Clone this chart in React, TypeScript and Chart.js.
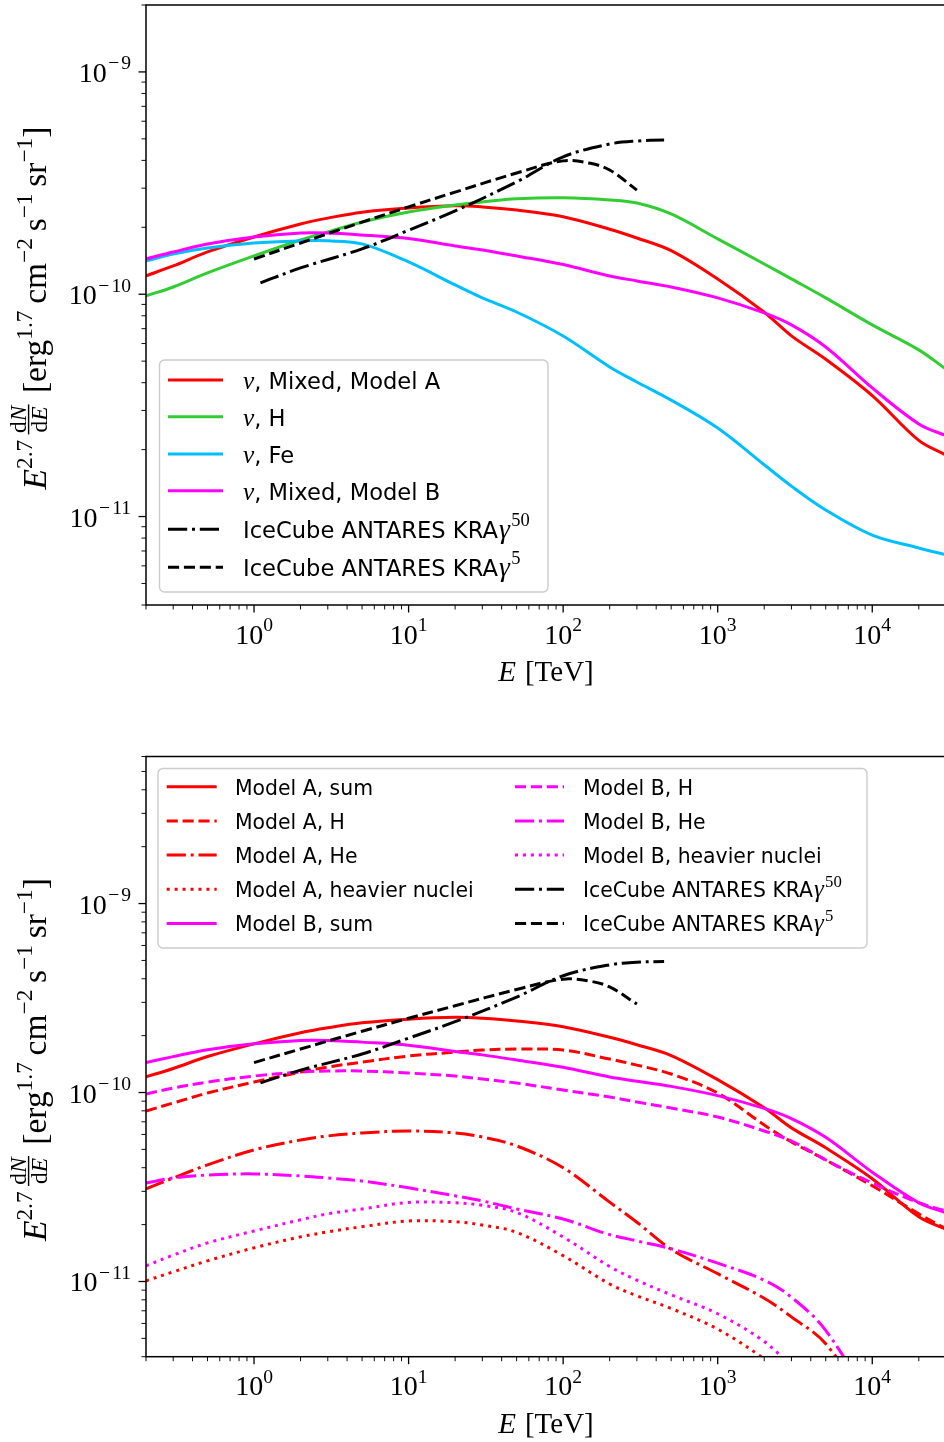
import React, { useEffect, useRef } from 'react';
import { Chart, registerables } from 'chart.js';

Chart.register(...registerables);

// ---------------- data (TeV, erg^1.7 cm^-2 s^-1 sr^-1) ----------------
const ENERGY_TEV = [0.2, 0.3, 0.5, 1, 2, 3, 5, 10, 20, 30, 50, 100, 200, 300, 500, 1000, 2000, 3000, 5000, 10000, 20000, 30000];

const MODEL_A_SUM = [1.21e-10, 1.34e-10, 1.55e-10, 1.81e-10, 2.07e-10, 2.2e-10, 2.34e-10, 2.445e-10, 2.5e-10, 2.47e-10, 2.39e-10, 2.23e-10, 1.96e-10, 1.79e-10, 1.57e-10, 1.17e-10, 8.3e-11, 6.5e-11, 5.1e-11, 3.5e-11, 2.2e-11, 1.89e-11];
const NU_H = [9.83e-11, 1.078e-10, 1.247e-10, 1.487e-10, 1.754e-10, 1.905e-10, 2.114e-10, 2.344e-10, 2.521e-10, 2.601e-10, 2.685e-10, 2.713e-10, 2.656e-10, 2.574e-10, 2.297e-10, 1.774e-10, 1.368e-10, 1.172e-10, 9.63e-11, 7.28e-11, 5.62e-11, 4.6e-11];
const NU_FE = [1.412e-10, 1.518e-10, 1.615e-10, 1.702e-10, 1.738e-10, 1.738e-10, 1.684e-10, 1.397e-10, 1.101e-10, 9.63e-11, 8.32e-11, 6.49e-11, 4.71e-11, 4.03e-11, 3.34e-11, 2.5e-11, 1.71e-11, 1.37e-11, 1.07e-11, 8.25e-12, 7.22e-12, 6.72e-12];
const MODEL_B_SUM = [1.442e-10, 1.549e-10, 1.684e-10, 1.811e-10, 1.887e-10, 1.887e-10, 1.848e-10, 1.78e-10, 1.649e-10, 1.582e-10, 1.487e-10, 1.36e-10, 1.208e-10, 1.148e-10, 1.078e-10, 9.63e-11, 8.24e-11, 7.28e-11, 5.79e-11, 3.79e-11, 2.61e-11, 2.31e-11];

const MODEL_A_H = [7.98e-11, 8.8e-11, 9.94e-11, 1.136e-10, 1.283e-10, 1.364e-10, 1.449e-10, 1.56e-10, 1.637e-10, 1.678e-10, 1.698e-10, 1.678e-10, 1.503e-10, 1.397e-10, 1.253e-10, 9.94e-11, 6.73e-11, 5.48e-11, 4.4e-11, 3.21e-11, 2.28e-11, 1.9e-11];
const MODEL_A_HE = [3.09e-11, 3.53e-11, 4.14e-11, 4.97e-11, 5.61e-11, 5.89e-11, 6.11e-11, 6.26e-11, 6.11e-11, 5.82e-11, 5.22e-11, 4.0e-11, 2.63e-11, 2.06e-11, 1.48e-11, 1.1e-11, 8.15e-12, 6.5e-12, 4.68e-12, 2.0e-12, 6e-13, 2e-13];
const MODEL_A_HEAVY = [1.008e-11, 1.125e-11, 1.286e-11, 1.507e-11, 1.723e-11, 1.83e-11, 1.95e-11, 2.09e-11, 2.07e-11, 1.99e-11, 1.82e-11, 1.37e-11, 9.7e-12, 8.4e-12, 7.2e-12, 5.6e-12, 3.9e-12, 3.0e-12, 2.0e-12, 1e-12, 5e-13, 3e-13];
const MODEL_B_H = [9.82e-11, 1.056e-10, 1.136e-10, 1.222e-10, 1.283e-10, 1.3e-10, 1.3e-10, 1.268e-10, 1.222e-10, 1.178e-10, 1.122e-10, 1.031e-10, 9.47e-11, 8.91e-11, 8.28e-11, 7.42e-11, 6.26e-11, 5.54e-11, 4.4e-11, 3.32e-11, 2.61e-11, 2.36e-11];
const MODEL_B_HE = [3.32e-11, 3.53e-11, 3.66e-11, 3.71e-11, 3.62e-11, 3.53e-11, 3.4e-11, 3.13e-11, 2.84e-11, 2.67e-11, 2.42e-11, 2.14e-11, 1.77e-11, 1.64e-11, 1.49e-11, 1.25e-11, 1.016e-11, 8.26e-12, 5.51e-12, 2.2e-12, 8e-13, 4e-13];
const MODEL_B_HEAVY = [1.21e-11, 1.38e-11, 1.6e-11, 1.85e-11, 2.12e-11, 2.28e-11, 2.42e-11, 2.62e-11, 2.61e-11, 2.53e-11, 2.32e-11, 1.72e-11, 1.2e-11, 1.016e-11, 8.5e-12, 6.75e-12, 4.81e-12, 3.5e-12, 2.0e-12, 1e-12, 5e-13, 3e-13];

const KRA50_E = [1.1, 2, 5, 10, 20, 50, 100, 200, 300, 450];
const KRA50 = [1.125e-10, 1.313e-10, 1.6e-10, 1.94e-10, 2.37e-10, 3.2e-10, 4.15e-10, 4.74e-10, 4.89e-10, 4.94e-10];
const KRA5_E = [1, 2, 5, 10, 20, 50, 100, 150, 200, 300];
const KRA5 = [1.44e-10, 1.7e-10, 2.11e-10, 2.47e-10, 2.88e-10, 3.51e-10, 3.98e-10, 3.88e-10, 3.62e-10, 2.94e-10];

const TOP_LABELS = ['ν, Mixed, Model A', 'ν, H', 'ν, Fe', 'ν, Mixed, Model B', 'IceCube ANTARES KRAγ^50', 'IceCube ANTARES KRAγ^5'];
const BOTTOM_LABELS = ['Model A, sum', 'Model A, H', 'Model A, He', 'Model A, heavier nuclei', 'Model B, sum', 'Model B, H', 'Model B, He', 'Model B, heavier nuclei', 'IceCube ANTARES KRAγ^50', 'IceCube ANTARES KRAγ^5'];

const X_TICK_VALUES = [1, 10, 100, 1000, 10000];
const X_TICK_EXP = ['0', '1', '2', '3', '4'];
const Y_TICK_VALUES = [1e-9, 1e-10, 1e-11];
const Y_TICK_EXP = ['−9', '−10', '−11'];

// ---------------- styles ----------------
const SERIF = '"Liberation Serif", "Times New Roman", serif';
const SANS = '"DejaVu Sans", "Liberation Sans", sans-serif';
const RED = '#ff0000';
const GREEN = '#32cd32';
const CYAN = '#00bfff';
const MAGENTA = '#ff00ff';
const BLACK = '#000000';
const LW = 3;
const SOLID: number[] = [];
const DASHED = [11.1, 4.8];
const DASHDOT = [19.2, 4.8, 3, 4.8];
const DOTTED = [3, 4.95];

type Run = { t: string; f: string; dy?: number; gap?: number };

function measureRuns(ctx: CanvasRenderingContext2D, runs: Run[]) {
  let w = 0;
  for (const r of runs) {
    if (r.gap) { w += r.gap; continue; }
    ctx.font = r.f;
    w += ctx.measureText(r.t).width;
  }
  return w;
}
function drawRuns(ctx: CanvasRenderingContext2D, runs: Run[], x: number, y: number) {
  let cx = x;
  for (const r of runs) {
    if (r.gap) { cx += r.gap; continue; }
    ctx.font = r.f;
    ctx.fillText(r.t, cx, y + (r.dy || 0));
    cx += ctx.measureText(r.t).width;
  }
  return cx;
}
function powRuns(exp: string, F: number): Run[] {
  const sf = `${F * 0.7}px ${SERIF}`;
  const dy = -0.45 * F;
  const runs: Run[] = [{ t: '10', f: `${F}px ${SERIF}` }];
  if (exp.startsWith('−')) {
    runs.push({ t: '', f: '', gap: 1.5 });
    runs.push({ t: '−', f: sf, dy });
    runs.push({ t: '', f: '', gap: 2 });
    runs.push({ t: exp.slice(1), f: sf, dy });
  } else {
    runs.push({ t: exp, f: sf, dy });
  }
  return runs;
}
function legendRuns(label: string, F: number): Run[] {
  const runs: Run[] = [];
  let buf = '';
  const flush = () => { if (buf) { runs.push({ t: buf, f: `${F}px ${SANS}` }); buf = ''; } };
  for (let i = 0; i < label.length; i++) {
    const ch = label[i];
    if (ch === 'ν') {
      flush();
      runs.push({ t: ch, f: `italic ${F * 1.12}px ${SERIF}` });
    } else if (ch === 'γ') {
      flush();
      runs.push({ t: '', f: '', gap: F * 0.05 });
      runs.push({ t: ch, f: `italic ${F * 1.22}px ${SERIF}` });
    } else if (ch === '^') {
      flush();
      let j = i + 1;
      let s = '';
      while (j < label.length && /[0-9]/.test(label[j])) { s += label[j]; j++; }
      runs.push({ t: '', f: '', gap: F * 0.06 });
      runs.push({ t: s, f: `${F * 0.82}px ${SERIF}`, dy: -F * 0.52 });
      i = j - 1;
    } else buf += ch;
  }
  flush();
  return runs;
}

function drawYLabel(ctx: CanvasRenderingContext2D, cx: number, cy: number, target: number) {
  const build = (F: number) => {
    const S = F * 0.7;
    const up = `${F}px ${SERIF}`, it = `italic ${F}px ${SERIF}`, sUp = `${S}px ${SERIF}`, sIt = `italic ${S}px ${SERIF}`;
    const sd = -0.42 * F;
    const pre: Run[] = [{ t: 'E', f: it }, { t: '2.7', f: sUp, dy: sd }, { t: '', f: up, gap: 0.12 * F }];
    const num: Run[] = [{ t: 'd', f: sUp }, { t: 'N', f: sIt }];
    const den: Run[] = [{ t: 'd', f: sUp }, { t: 'E', f: sIt }];
    const post: Run[] = [
      { t: '', f: up, gap: 0.3 * F }, { t: '[', f: up }, { t: 'erg', f: up }, { t: '1.7', f: sUp, dy: sd },
      { t: '', f: up, gap: 0.2 * F }, { t: 'cm', f: up }, { t: '−2', f: sUp, dy: sd },
      { t: '', f: up, gap: 0.2 * F }, { t: 's', f: up }, { t: '−1', f: sUp, dy: sd },
      { t: '', f: up, gap: 0.2 * F }, { t: 'sr', f: up }, { t: '−1', f: sUp, dy: sd }, { t: ']', f: up },
    ];
    const nw = measureRuns(ctx, num), dw = measureRuns(ctx, den);
    const fw = Math.max(nw, dw) + 0.16 * F;
    const total = measureRuns(ctx, pre) + fw + measureRuns(ctx, post);
    return { F, pre, num, den, post, nw, dw, fw, total };
  };
  let L = build(31);
  const F2 = Math.max(26, Math.min(36, 31 * target / L.total));
  L = build(F2);
  const F = L.F;
  ctx.save();
  ctx.translate(cx, cy);
  ctx.rotate(-Math.PI / 2);
  let x = -L.total / 2;
  x = drawRuns(ctx, L.pre, x, 0);
  drawRuns(ctx, L.num, x + (L.fw - L.nw) / 2, -0.6 * F);
  ctx.fillRect(x + 0.04 * F, -0.52 * F - 0.7, L.fw - 0.08 * F, 1.4);
  drawRuns(ctx, L.den, x + (L.fw - L.dw) / 2, 0.03 * F);
  x += L.fw;
  drawRuns(ctx, L.post, x, 0);
  ctx.restore();
}

type Slot = { hx0: number; hx1: number; tx: number; cy: number };
type PanelSpec = {
  offsetY: number;
  labels: string[];
  legendBox: [number, number, number, number];
  legendFont: number;
  slots: Slot[];
};

function panelPlugin(spec: PanelSpec) {
  return {
    id: 'panelDecor',
    afterDraw(chart: any) {
      const ctx: CanvasRenderingContext2D = chart.ctx;
      const a = chart.chartArea;
      const xs = chart.scales.x;
      const ys = chart.scales.y;
      const oy = spec.offsetY;
      ctx.save();
      ctx.fillStyle = '#000';
      ctx.strokeStyle = '#000';
      ctx.textAlign = 'left';
      ctx.textBaseline = 'alphabetic';
      ctx.setLineDash([]);
      // x ticks
      for (let p = -1; p <= 5; p++) {
        for (let k = 1; k <= 9; k++) {
          const v = k * Math.pow(10, p);
          if (v < xs.min * 0.9999 || v > xs.max * 1.0001) continue;
          const px = xs.getPixelForValue(v);
          const major = k === 1;
          ctx.lineWidth = major ? 1.3 : 0.95;
          ctx.beginPath();
          ctx.moveTo(px, a.bottom);
          ctx.lineTo(px, a.bottom + (major ? 7.5 : 4.5));
          ctx.stroke();
        }
      }
      X_TICK_VALUES.forEach((v, i) => {
        const px = xs.getPixelForValue(v);
        const runs = powRuns(X_TICK_EXP[i], 28);
        const w = measureRuns(ctx, runs);
        drawRuns(ctx, runs, px - w / 2, a.bottom + 38.5);
      });
      // y ticks
      for (let p = -13; p <= -7; p++) {
        for (let k = 1; k <= 9; k++) {
          const v = k * Math.pow(10, p);
          if (v < ys.min * 0.9999 || v > ys.max * 1.0001) continue;
          const py = ys.getPixelForValue(v);
          const major = k === 1;
          ctx.lineWidth = major ? 1.3 : 0.95;
          ctx.beginPath();
          ctx.moveTo(a.left, py);
          ctx.lineTo(a.left - (major ? 7.5 : 4.5), py);
          ctx.stroke();
        }
      }
      Y_TICK_VALUES.forEach((v, i) => {
        const py = ys.getPixelForValue(v);
        const runs = powRuns(Y_TICK_EXP[i], 28);
        const w = measureRuns(ctx, runs);
        drawRuns(ctx, runs, a.left - 15 - w, py + 10);
      });
      // frame
      ctx.lineWidth = 1.5;
      ctx.strokeRect(a.left, a.top, a.right - a.left, a.bottom - a.top);
      // axis titles
      const xl: Run[] = [{ t: 'E', f: `italic 29px ${SERIF}` }, { t: '', f: '', gap: 9 }, { t: '[TeV]', f: `29px ${SERIF}` }];
      const xw = measureRuns(ctx, xl);
      drawRuns(ctx, xl, (a.left + a.right) / 2 - xw / 2, a.bottom + 76);
      drawYLabel(ctx, 46, (a.top + a.bottom) / 2 + 3, 363);
      // legend
      const [bx0, by0, bx1, by1] = spec.legendBox;
      ctx.beginPath();
      ctx.roundRect(bx0, by0 - oy, bx1 - bx0, by1 - by0, 5);
      ctx.fillStyle = 'rgba(255,255,255,0.8)';
      ctx.fill();
      ctx.strokeStyle = '#cccccc';
      ctx.lineWidth = 1.4;
      ctx.stroke();
      const dsets = chart.data.datasets;
      spec.slots.forEach((s, i) => {
        const ds = dsets[i];
        ctx.save();
        ctx.strokeStyle = ds.borderColor;
        ctx.lineWidth = LW;
        ctx.lineCap = 'butt';
        ctx.setLineDash(ds.borderDash || []);
        ctx.beginPath();
        ctx.moveTo(s.hx0, s.cy - oy);
        ctx.lineTo(s.hx1, s.cy - oy);
        ctx.stroke();
        ctx.restore();
        ctx.fillStyle = '#000';
        drawRuns(ctx, legendRuns(spec.labels[i], spec.legendFont), s.tx, s.cy - oy + 0.39 * spec.legendFont);
      });
      ctx.restore();
    },
  };
}

function series(label: string, xs: number[], ys: number[], color: string, dash: number[], order: number) {
  return {
    label,
    data: xs.map((x, i) => ({ x, y: ys[i] })),
    borderColor: color,
    backgroundColor: color,
    borderDash: dash,
    borderWidth: LW,
    borderCapStyle: 'butt',
    borderJoinStyle: 'round',
    pointRadius: 0,
    pointHoverRadius: 0,
    fill: false,
    tension: 0.35,
    order,
  };
}

function makeConfig(datasets: any[], yMax: number, padTop: number, xAxisH: number, spec: PanelSpec): any {
  return {
    type: 'line',
    data: { datasets },
    options: {
      animation: false,
      responsive: false,
      devicePixelRatio: 1,
      events: [],
      layout: { padding: { left: 0, top: padTop, right: 14, bottom: 0 } },
      plugins: { legend: { display: false }, tooltip: { enabled: false } },
      scales: {
        x: {
          type: 'logarithmic', min: 0.2, max: 3e4, bounds: 'data',
          ticks: { display: false }, grid: { display: false }, border: { display: false },
          afterFit: (s: any) => { s.height = xAxisH; },
        },
        y: {
          type: 'logarithmic', min: 4e-12, max: yMax, bounds: 'data',
          ticks: { display: false }, grid: { display: false }, border: { display: false },
          afterFit: (s: any) => { s.width = 146; },
        },
      },
    },
    plugins: [panelPlugin(spec)],
  };
}

export default function App() {
  const topRef = useRef<HTMLCanvasElement>(null);
  const botRef = useRef<HTMLCanvasElement>(null);
  useEffect(() => {
    const E = ENERGY_TEV;
    const topSets = [
      series(TOP_LABELS[0], E, MODEL_A_SUM, RED, SOLID, 6),
      series(TOP_LABELS[1], E, NU_H, GREEN, SOLID, 5),
      series(TOP_LABELS[2], E, NU_FE, CYAN, SOLID, 4),
      series(TOP_LABELS[3], E, MODEL_B_SUM, MAGENTA, SOLID, 3),
      series(TOP_LABELS[4], KRA50_E, KRA50, BLACK, DASHDOT, 2),
      series(TOP_LABELS[5], KRA5_E, KRA5, BLACK, DASHED, 1),
    ];
    const topRows = [380, 416.7, 454, 490.7, 529.3, 567.3];
    const topSpec: PanelSpec = {
      offsetY: 0,
      labels: TOP_LABELS,
      legendBox: [159.5, 360, 548, 592],
      legendFont: 22.6,
      slots: topRows.map((cy) => ({ hx0: 168, hx1: 223, tx: 243, cy })),
    };
    const botSets = [
      series(BOTTOM_LABELS[0], E, MODEL_A_SUM, RED, SOLID, 10),
      series(BOTTOM_LABELS[1], E, MODEL_A_H, RED, DASHED, 9),
      series(BOTTOM_LABELS[2], E, MODEL_A_HE, RED, DASHDOT, 8),
      series(BOTTOM_LABELS[3], E, MODEL_A_HEAVY, RED, DOTTED, 7),
      series(BOTTOM_LABELS[4], E, MODEL_B_SUM, MAGENTA, SOLID, 6),
      series(BOTTOM_LABELS[5], E, MODEL_B_H, MAGENTA, DASHED, 5),
      series(BOTTOM_LABELS[6], E, MODEL_B_HE, MAGENTA, DASHDOT, 4),
      series(BOTTOM_LABELS[7], E, MODEL_B_HEAVY, MAGENTA, DOTTED, 3),
      series(BOTTOM_LABELS[8], KRA50_E, KRA50, BLACK, DASHDOT, 2),
      series(BOTTOM_LABELS[9], KRA5_E, KRA5, BLACK, DASHED, 1),
    ];
    const botRows = [786.7, 820.9, 855.1, 889.3, 923.5];
    const botSpec: PanelSpec = {
      offsetY: 720,
      labels: BOTTOM_LABELS,
      legendBox: [158, 768.5, 867, 948],
      legendFont: 20.4,
      slots: [
        ...botRows.map((cy) => ({ hx0: 166.7, hx1: 216.7, tx: 235, cy })),
        ...botRows.map((cy) => ({ hx0: 515, hx1: 564, tx: 583, cy })),
      ],
    };
    const c1 = new Chart(topRef.current as HTMLCanvasElement, makeConfig(topSets, 2e-9, 5, 115, topSpec));
    const c2 = new Chart(botRef.current as HTMLCanvasElement, makeConfig(botSets, 6e-9, 36.5, 85.3, botSpec));
    return () => { c1.destroy(); c2.destroy(); };
  }, []);
  return (
    <div style={{ position: 'absolute', left: 0, top: 0, width: 944, height: 1442, overflow: 'hidden', background: '#ffffff' }}>
      <canvas ref={topRef} width={960} height={720} style={{ position: 'absolute', left: 0, top: 0, width: 960, height: 720 }} />
      <canvas ref={botRef} width={960} height={722} style={{ position: 'absolute', left: 0, top: 720, width: 960, height: 722 }} />
    </div>
  );
}
